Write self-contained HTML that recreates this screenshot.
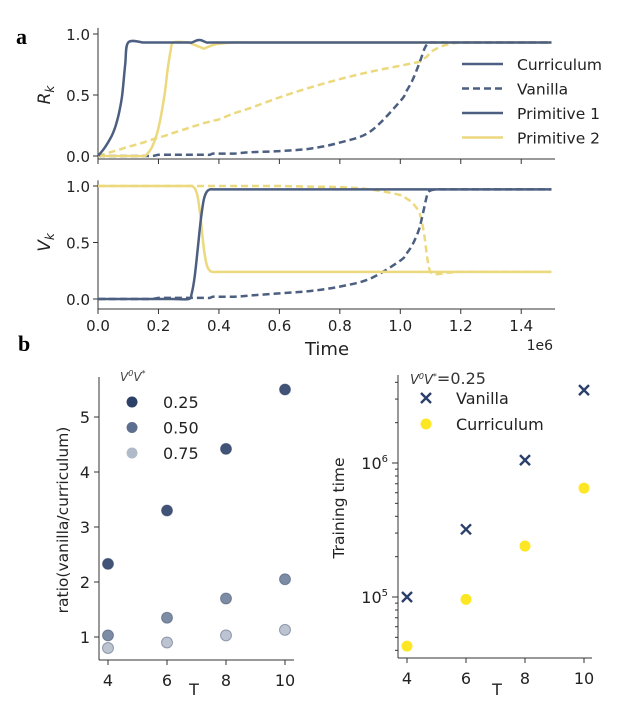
<!DOCTYPE html>
<html><head><meta charset="utf-8">
<style>
body{margin:0;background:#fff;}
svg{display:block;font-family:"DejaVu Sans","Liberation Sans",sans-serif;}
</style></head>
<body>
<svg id="fig" width="633" height="711" viewBox="0 0 633 711"></svg>
<script>
// ---- Panel a data (time in units of 1e6) ----
const tGrid = [0,0.02,0.04,0.05,0.06,0.07,0.08,0.09,0.1,0.15,0.16,0.18,0.2,0.22,0.23,0.24,0.25,0.3,0.31,0.32,0.33,0.34,0.35,0.36,0.37,0.38,0.4,0.45,0.5,0.6,0.7,0.8,0.9,1.0,1.02,1.04,1.06,1.07,1.08,1.09,1.1,1.12,1.15,1.2,1.3,1.4,1.5];
const rCurrP1 = [0,0.06,0.14,0.19,0.26,0.36,0.5,0.75,0.93,0.93,0.93,0.93,0.93,0.93,0.93,0.93,0.93,0.93,0.93,0.94,0.95,0.95,0.94,0.93,0.93,0.93,0.93,0.93,0.93,0.93,0.93,0.93,0.93,0.93,0.93,0.93,0.93,0.93,0.93,0.93,0.93,0.93,0.93,0.93,0.93,0.93,0.93];
const rCurrP2 = [0,0,0,0,0,0,0,0,0,0,0.01,0.08,0.23,0.5,0.7,0.86,0.93,0.93,0.92,0.91,0.9,0.89,0.88,0.89,0.9,0.91,0.92,0.93,0.93,0.93,0.93,0.93,0.93,0.93,0.93,0.93,0.93,0.93,0.93,0.93,0.93,0.93,0.93,0.93,0.93,0.93,0.93];
const rVanP1 = [0,0,0,0,0,0,0,0,0,0,0,0,0.01,0.01,0.01,0.01,0.01,0.01,0.01,0.01,0.01,0.01,0.01,0.01,0.01,0.02,0.02,0.02,0.03,0.04,0.06,0.11,0.2,0.45,0.53,0.62,0.74,0.81,0.88,0.92,0.93,0.93,0.93,0.93,0.93,0.93,0.93];
const rVanP2 = [0,0.015,0.03,0.038,0.045,0.052,0.06,0.068,0.075,0.11,0.12,0.135,0.15,0.165,0.172,0.18,0.19,0.23,0.24,0.245,0.253,0.26,0.27,0.275,0.283,0.29,0.3,0.35,0.39,0.48,0.56,0.63,0.69,0.74,0.75,0.76,0.77,0.78,0.8,0.82,0.85,0.88,0.91,0.93,0.93,0.93,0.93];
const vCurrP1 = [0,0,0,0,0,0,0,0,0,0,0,0,0,0,0,0,0,0,0.05,0.2,0.45,0.7,0.88,0.95,0.97,0.97,0.97,0.97,0.97,0.97,0.97,0.97,0.97,0.97,0.97,0.97,0.97,0.97,0.97,0.97,0.97,0.97,0.97,0.97,0.97,0.97,0.97];
const vCurrP2 = [1,1,1,1,1,1,1,1,1,1,1,1,1,1,1,1,1,1,1,0.98,0.9,0.7,0.45,0.3,0.25,0.24,0.24,0.24,0.24,0.24,0.24,0.24,0.24,0.24,0.24,0.24,0.24,0.24,0.24,0.24,0.24,0.24,0.24,0.24,0.24,0.24,0.24];
const vVanP1 = [0,0,0,0,0,0,0,0,0,0,0,0,0.01,0.01,0.01,0.01,0.01,0.01,0.01,0.01,0.01,0.01,0.01,0.01,0.01,0.02,0.02,0.02,0.03,0.05,0.07,0.11,0.18,0.34,0.4,0.48,0.6,0.7,0.82,0.93,0.96,0.97,0.97,0.97,0.97,0.97,0.97];
const vVanP2 = [1,1,1,1,1,1,1,1,1,1,1,1,1,1,1,1,1,1,1,1,1,1,1,1,1,1,1,1,1,1,0.995,0.99,0.97,0.92,0.89,0.85,0.78,0.7,0.55,0.35,0.24,0.22,0.23,0.24,0.24,0.24,0.24];
const timeTicks = ["0.0","0.2","0.4","0.6","0.8","1.0","1.2","1.4"];
// ---- Panel b data ----
const Tvals = [4,6,8,10];
const ratio025 = [2.33,3.3,4.42,5.5];
const ratio050 = [1.03,1.35,1.7,2.05];
const ratio075 = [0.8,0.9,1.03,1.13];
const vanTime = [1.0e5,3.2e5,1.05e6,3.5e6];
const curTime = [4.3e4,9.6e4,2.4e5,6.5e5];

const NS="http://www.w3.org/2000/svg";
const svg=document.getElementById('fig');
function mk(tag,attrs,parent,name,text){const e=document.createElementNS(NS,tag);for(const k in attrs)e.setAttribute(k,attrs[k]);


if(text!==undefined)e.textContent=text;(parent||svg).appendChild(e);return e;}

const BLUE="#4c5f80", YEL="#ecd97e";
const xT=t=>98+t*302.3;
function yA(v){return 156-v*122;}
function yB(v){return 299-v*113;}

mk('text',{x:16,y:44,'font-family':'Liberation Serif, serif','font-weight':'bold','font-size':22},svg,'panel-a-label','a');
mk('text',{x:18,y:351,'font-family':'Liberation Serif, serif','font-weight':'bold','font-size':22},svg,'panel-b-label','b');

function line(arr,yf,col,dash,name){
  const pts=arr.map((v,i)=>[xT(tGrid[i]),yf(v)]);
  let d='M'+pts[0][0].toFixed(1)+','+pts[0][1].toFixed(1);
  for(let i=0;i<pts.length-1;i++){
    const p0=pts[Math.max(0,i-1)],p1=pts[i],p2=pts[i+1],p3=pts[Math.min(pts.length-1,i+2)];
    const c1=[p1[0]+(p2[0]-p0[0])/6,p1[1]+(p2[1]-p0[1])/6];
    const c2=[p2[0]-(p3[0]-p1[0])/6,p2[1]-(p3[1]-p1[1])/6];
    d+=`C${c1[0].toFixed(1)},${c1[1].toFixed(1)} ${c2[0].toFixed(1)},${c2[1].toFixed(1)} ${p2[0].toFixed(1)},${p2[1].toFixed(1)}`;
  }
  mk('path',{d:d,fill:'none',stroke:col,'stroke-width':2.5,'stroke-dasharray':dash?'7,4':'none','stroke-linejoin':'round'},svg,name);
}
function axesTime(yf,axisY,ylab,name,showX){
  const g=mk('g',{},svg,name);
  mk('line',{x1:98,y1:yf(1.05),x2:98,y2:axisY,stroke:'#333','stroke-width':1},g,'y-axis-line');
  mk('line',{x1:98,y1:axisY,x2:555,y2:axisY,stroke:'#333','stroke-width':1},g,'x-axis-line');
  [0,0.5,1].forEach(v=>{
    mk('line',{x1:93,y1:yf(v),x2:98,y2:yf(v),stroke:'#333'},g,'y-tick');
    mk('text',{x:90,y:yf(v)+6,'text-anchor':'end','font-size':15,fill:'#222'},g,'y-tick-label',v.toFixed(1));
  });
  timeTicks.forEach(s=>{const x=xT(parseFloat(s));
    mk('line',{x1:x,y1:axisY,x2:x,y2:axisY+5,stroke:'#333'},g,'x-tick');
    if(showX)mk('text',{x:x,y:axisY+22,'text-anchor':'middle','font-size':15,fill:'#222'},g,'x-tick-label',s);
  });
  const ly=(yf(0)+yf(1))/2;
  const t=mk('text',{x:0,y:0,transform:`translate(50,${ly}) rotate(-90)`,'text-anchor':'middle','font-size':17,'font-style':'italic',fill:'#222'},g,'y-axis-title');
  t.textContent=ylab[0];
  mk('tspan',{'font-size':12,dy:4},t,'subscript','k');
}
axesTime(yA,159,'R','top-axes',false);
axesTime(yB,309,'V','bottom-axes',true);
mk('text',{x:327,y:355,'text-anchor':'middle','font-size':18,fill:'#222'},svg,'x-axis-title','Time');
mk('text',{x:553,y:350,'text-anchor':'end','font-size':14,fill:'#222'},svg,'x-offset-label','1e6');

line(rVanP2,yA,YEL,true,'r-vanilla-p2');
line(rVanP1,yA,BLUE,true,'r-vanilla-p1');
line(rCurrP2,yA,YEL,false,'r-curriculum-p2');
line(rCurrP1,yA,BLUE,false,'r-curriculum-p1');
line(vVanP2,yB,YEL,true,'v-vanilla-p2');
line(vVanP1,yB,BLUE,true,'v-vanilla-p1');
line(vCurrP2,yB,YEL,false,'v-curriculum-p2');
line(vCurrP1,yB,BLUE,false,'v-curriculum-p1');

const leg=mk('g',{},svg,'legend-top');
[['Curriculum',BLUE,false],['Vanilla',BLUE,true],['Primitive 1',BLUE,false],['Primitive 2',YEL,false]].forEach((e,i)=>{
  const y=64+i*24.5;
  mk('line',{x1:462,y1:y,x2:503,y2:y,stroke:e[1],'stroke-width':2.5,'stroke-dasharray':e[2]?'7,4':'none'},leg,'legend-entry-swatch');
  mk('text',{x:517,y:y+6,'font-size':15.5,fill:'#222'},leg,'legend-entry',e[0]);
});

// ---- b left ----
const xL=T=>108+(T-4)*29.5;
const yL=v=>637-(v-1)*55;
const gl=mk('g',{},svg,'ratio-axes');
mk('line',{x1:99,y1:377,x2:99,y2:660,stroke:'#333'},gl,'y-axis-line');
mk('line',{x1:99,y1:660,x2:294,y2:660,stroke:'#333'},gl,'x-axis-line');
[1,2,3,4,5].forEach(v=>{mk('line',{x1:94,y1:yL(v),x2:99,y2:yL(v),stroke:'#333'},gl,'y-tick');
 mk('text',{x:90,y:yL(v)+6,'text-anchor':'end','font-size':16,fill:'#222'},gl,'y-tick-label',String(v));});
Tvals.forEach(T=>{mk('line',{x1:xL(T),y1:660,x2:xL(T),y2:665,stroke:'#333'},gl,'x-tick');
 mk('text',{x:xL(T),y:686,'text-anchor':'middle','font-size':16,fill:'#222'},gl,'x-tick-label',String(T));});
mk('text',{x:194,y:695,'text-anchor':'middle','font-size':16,fill:'#222'},gl,'x-axis-title','T');
mk('text',{x:0,y:0,transform:'translate(68,520) rotate(-90)','text-anchor':'middle','font-size':15.5,fill:'#222'},gl,'y-axis-title','ratio(vanilla/curriculum)');
[[ratio025,'#2c4068',0.9,'ratio-025'],[ratio050,'#5c6f8e',0.8,'ratio-050'],[ratio075,'#b0bac9',0.85,'ratio-075']].forEach(s=>{
  s[0].forEach((v,i)=>mk('circle',{cx:xL(Tvals[i]),cy:yL(v),r:5.5,fill:s[1],stroke:'#223355','stroke-opacity':0.4,'fill-opacity':s[2]},svg,s[3]+'-point'));
});
const ll=mk('g',{},svg,'legend-ratio');
const lt=mk('text',{x:120,y:381,'font-size':12,'font-style':'italic',fill:'#444'},ll,'legend-title','V');
mk('tspan',{'font-size':8,dy:-5},lt,'sup','0');mk('tspan',{dy:5},lt,'v','V');mk('tspan',{'font-size':8,dy:-5},lt,'sup','*');
[['0.25','#2c4068'],['0.50','#5c6f8e'],['0.75','#b0bac9']].forEach((e,i)=>{
  const y=402+i*25.5;
  mk('circle',{cx:132,cy:y,r:5.5,fill:e[1]},ll,'legend-entry-marker');
  mk('text',{x:163,y:y+6,'font-size':16,fill:'#222'},ll,'legend-entry',e[0]);
});

// ---- b right ----
const xR=T=>407+(T-4)*29.5;
const yR=v=>463-(Math.log10(v)-6)*134;
const gr=mk('g',{},svg,'time-axes');
mk('line',{x1:398,y1:375,x2:398,y2:658,stroke:'#333'},gr,'y-axis-line');
mk('line',{x1:398,y1:658,x2:592,y2:658,stroke:'#333'},gr,'x-axis-line');
[5,6].forEach(p=>{const y=yR(Math.pow(10,p));
 mk('line',{x1:392,y1:y,x2:398,y2:y,stroke:'#333'},gr,'y-major-tick');
 const t=mk('text',{x:388,y:y+6,'text-anchor':'end','font-size':16,fill:'#222'},gr,'y-tick-label','10');
 mk('tspan',{'font-size':10,dy:-7},t,'exponent',String(p));});
[4e4,5e4,6e4,7e4,8e4,9e4,2e5,3e5,4e5,5e5,6e5,7e5,8e5,9e5,2e6,3e6,4e6].forEach(v=>{const y=yR(v);
 mk('line',{x1:395,y1:y,x2:398,y2:y,stroke:'#333'},gr,'y-minor-tick');});
Tvals.forEach(T=>{mk('line',{x1:xR(T),y1:658,x2:xR(T),y2:663,stroke:'#333'},gr,'x-tick');
 mk('text',{x:xR(T),y:684,'text-anchor':'middle','font-size':16,fill:'#222'},gr,'x-tick-label',String(T));});
mk('text',{x:497,y:695,'text-anchor':'middle','font-size':16,fill:'#222'},gr,'x-axis-title','T');
mk('text',{x:0,y:0,transform:'translate(344,508) rotate(-90)','text-anchor':'middle','font-size':15.5,fill:'#222'},gr,'y-axis-title','Training time');
vanTime.forEach((v,i)=>{const x=xR(Tvals[i]),y=yR(v);
 mk('path',{d:`M${x-5},${y-5}L${x+5},${y+5}M${x-5},${y+5}L${x+5},${y-5}`,stroke:'#2a3f6b','stroke-width':2.4},svg,'vanilla-point');});
curTime.forEach((v,i)=>mk('circle',{cx:xR(Tvals[i]),cy:yR(v),r:5.5,fill:'#fde725'},svg,'curriculum-point'));
const lr=mk('g',{},svg,'legend-time');
const lt2=mk('text',{x:410,y:384,'font-size':13,'font-style':'italic',fill:'#333'},lr,'legend-title','V');
mk('tspan',{'font-size':8,dy:-5},lt2,'sup','0');mk('tspan',{dy:5},lt2,'v','V');mk('tspan',{'font-size':8,dy:-5},lt2,'sup','*');
mk('tspan',{dy:5,'font-style':'normal','font-size':16},lt2,'val','=0.25');
const yv=398, yc=424;
mk('path',{d:`M${426-5},${yv-5}L${426+5},${yv+5}M${426-5},${yv+5}L${426+5},${yv-5}`,stroke:'#2a3f6b','stroke-width':2.4},lr,'legend-marker-vanilla');
mk('text',{x:456,y:yv+6,'font-size':16,fill:'#222'},lr,'legend-entry','Vanilla');
mk('circle',{cx:426,cy:yc,r:5.5,fill:'#fde725'},lr,'legend-marker-curriculum');
mk('text',{x:456,y:yc+6,'font-size':16,fill:'#222'},lr,'legend-entry','Curriculum');
</script>
</body></html>
